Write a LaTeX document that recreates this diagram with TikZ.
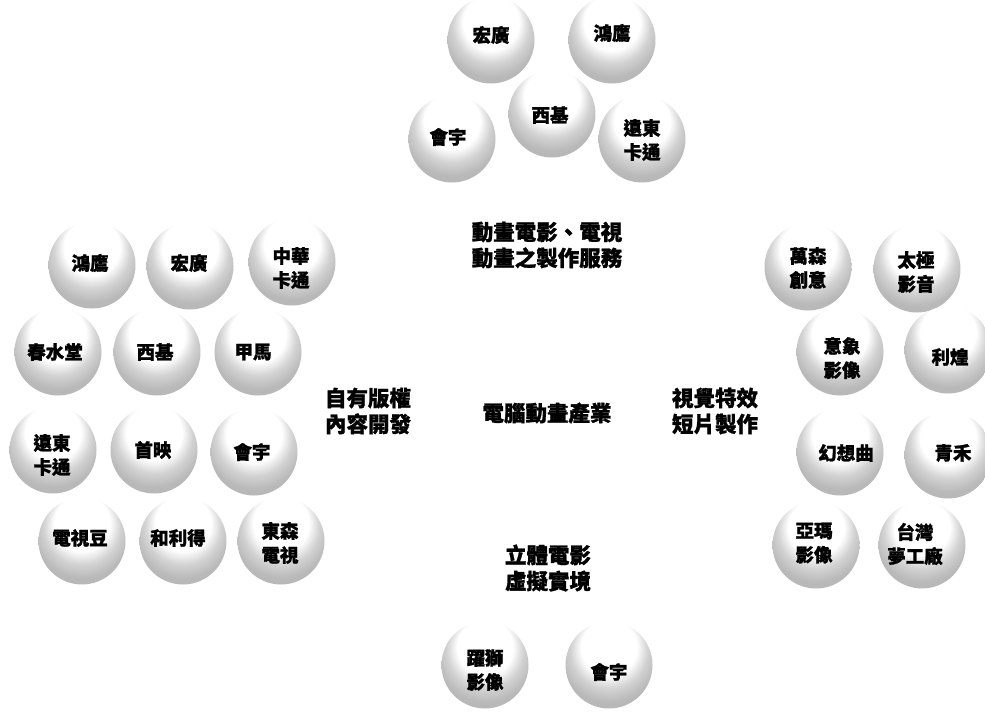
\documentclass[tikz,border=0pt]{standalone}
\usepackage{fontspec}
\newfontfamily\cjk{Noto Sans CJK TC}[BoldFeatures={FakeBold=1.2}]
\pgfdeclareradialshading{sph}{\pgfpoint{0bp}{15bp}}{color(0bp)=(white); color(16bp)=(white); color(22bp)=(gray!35); color(28bp)=(gray!55); color(40bp)=(gray!60); color(50bp)=(gray!60)}
\tikzset{
  ball/.style={circle, minimum size=87pt, inner sep=0pt, shading=sph},
  btxt/.style={font=\cjk\bfseries\fontsize{18.5}{24}\selectfont, align=center, inner sep=0pt},
  captxt/.style={font=\cjk\bfseries\fontsize{21.5}{26}\selectfont, align=center, inner sep=0pt}
}
\begin{document}
\begin{tikzpicture}[x=1pt,y=-1pt]
\fill[white] (0,0) rectangle (985,712);
\useasboundingbox (0,0) rectangle (985,712);
% --- spheres ---
\foreach \n/\x/\y in {s1/491/40, s2/612/40, s3/452/139, s4/552/114, s5/642/139,
  s6/92/265, s7/190/266, s8/292/262, s9/58/352, s10/157/352, s11/258/352,
  s12/53/450, s13/154/450, s14/254/452, s15/82/541, s16/183/541, s17/281/541,
  s18/808/267, s19/917/269, s20/840/352, s21/948/350, s22/840/452, s23/948/455,
  s24/816/545, s25/922/545, s26/485/665, s27/609/665}
  \node[ball] (\n) at (\x,\y) {};
% --- sphere texts ---
\node[btxt] (t1) at (491,35) {宏廣};
\node[btxt] (t2) at (612,33) {鴻鷹};
\node[btxt] (t3) at (448,137) {會宇};
\node[btxt] (t4) at (550,115) {西基};
\node[btxt] (t5) at (642,140) {遠東\\卡通};
\node[btxt] (t6) at (90,263) {鴻鷹};
\node[btxt] (t7) at (189,263) {宏廣};
\node[btxt] (t8) at (291,268) {中華\\卡通};
\node[btxt] (t9) at (55,352) {春水堂};
\node[btxt] (t10) at (155,352) {西基};
\node[btxt] (t11) at (253,352) {甲馬};
\node[btxt] (t12) at (52,455) {遠東\\卡通};
\node[btxt] (t13) at (153,450) {首映};
\node[btxt] (t14) at (252,452) {會宇};
\node[btxt] (t15) at (80,538) {電視豆};
\node[btxt] (t16) at (178,538) {和利得};
\node[btxt] (t17) at (280,543) {東森\\電視};
\node[btxt] (t18) at (808,268) {萬森\\創意};
\node[btxt] (t19) at (916,272) {太極\\影音};
\node[btxt] (t20) at (842,358) {意象\\影像};
\node[btxt] (t21) at (950,357) {利煌};
\node[btxt] (t22) at (846,453) {幻想曲};
\node[btxt] (t23) at (953,453) {青禾};
\node[btxt] (t24) at (814,543) {亞瑪\\影像};
\node[btxt] (t25) at (915,544) {台灣\\夢工廠};
\node[btxt] (t26) at (485,670) {躍獅\\影像};
\node[btxt] (t27) at (609,672) {會宇};
% --- captions ---
\node[captxt] (c1) at (547,245) {動畫電影、電視\\動畫之製作服務};
\node[captxt] (c2) at (368,411) {自有版權\\內容開發};
\node[captxt] (c3) at (547,413) {電腦動畫產業};
\node[captxt] (c4) at (715,411) {視覺特效\\短片製作};
\node[captxt] (c5) at (548,568) {立體電影\\虛擬實境};
\end{tikzpicture}
\end{document}
